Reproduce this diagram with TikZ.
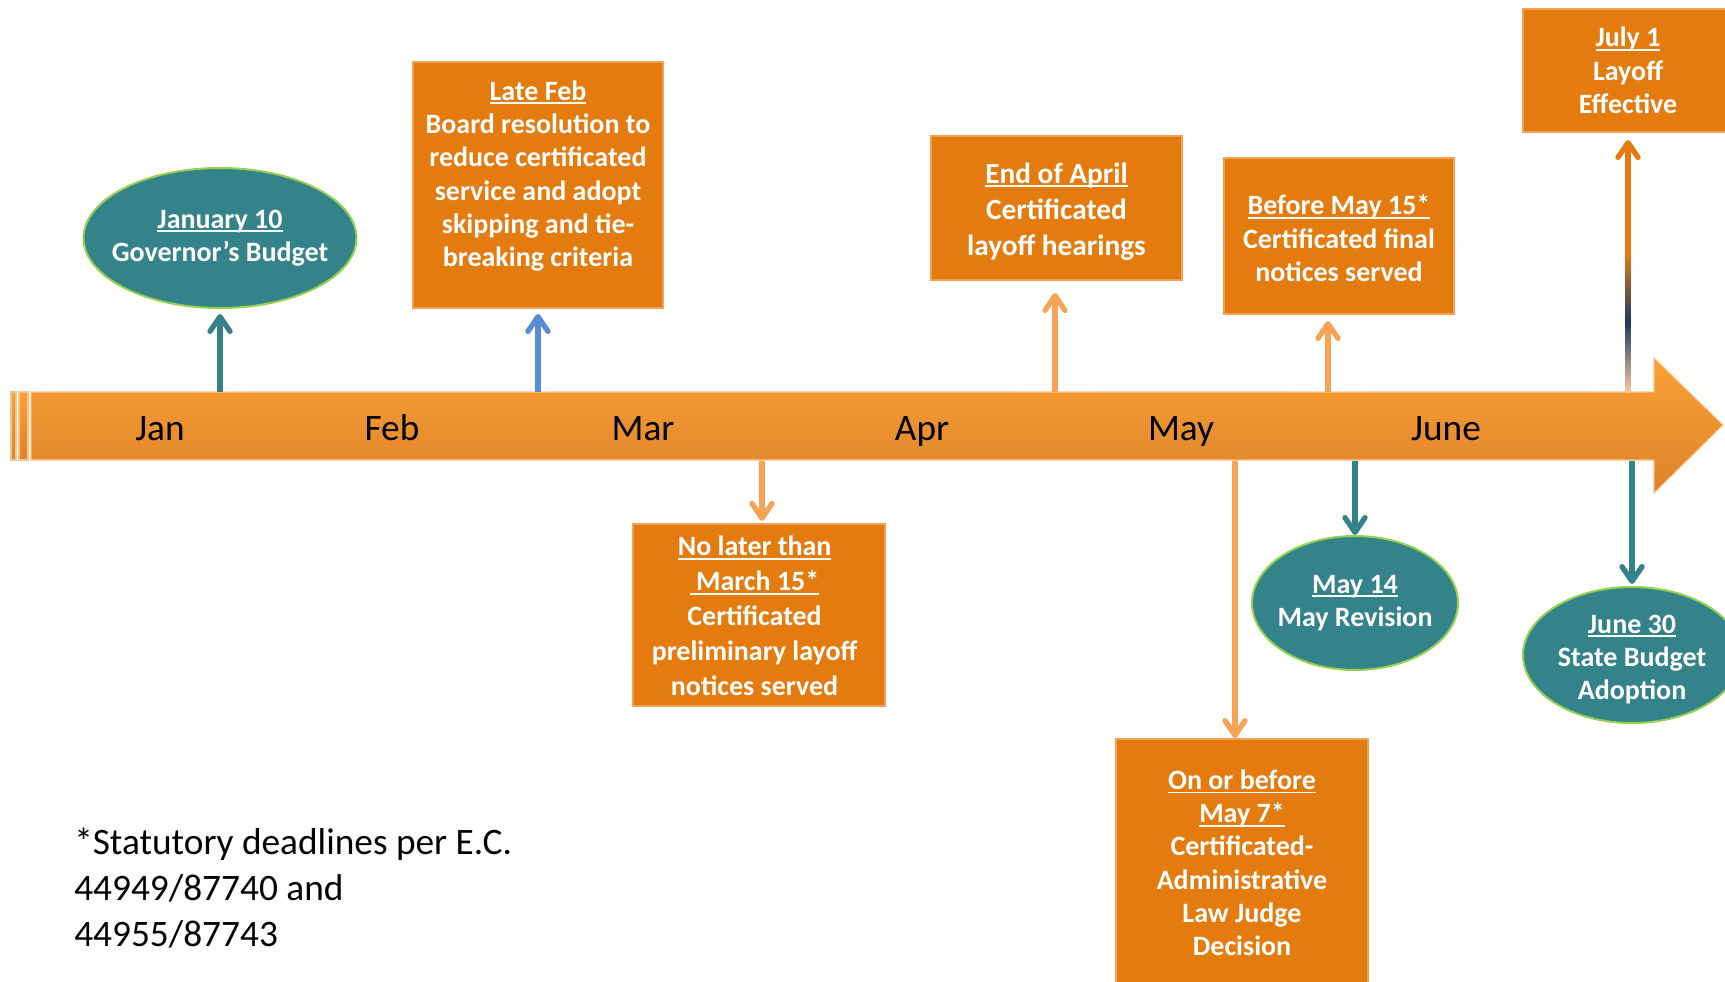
\documentclass[tikz,border=0pt]{standalone}
\usepackage{fontspec}
\setmainfont{Carlito}
\usetikzlibrary{arrows.meta,shapes.geometric}
\definecolor{boxorange}{RGB}{228,123,15}
\definecolor{boxedge}{RGB}{246,160,85}
\definecolor{tealc}{RGB}{52,130,138}
\definecolor{ovaledge}{RGB}{150,208,80}
\definecolor{bluec}{RGB}{85,142,213}
\definecolor{lightor}{RGB}{246,163,86}
\definecolor{bartop}{RGB}{250,160,55}
\definecolor{barbot}{RGB}{222,130,42}
\definecolor{baredge}{RGB}{250,195,140}
\definecolor{navyc}{RGB}{31,56,100}
\definecolor{peachc}{RGB}{250,200,160}
\newcommand\ulx[1]{\setbox0\hbox{#1}\rlap{\rule[-3pt]{\wd0}{1.3pt}}\box0}
\newcommand\zw[1]{\hbox to 0pt{\hss\vbox to 0pt{\vss\hbox{\begin{tabular}{@{}c@{}}#1\end{tabular}}\vss}\hss}}
\begin{document}
\begin{tikzpicture}[x=0.75pt,y=-0.75pt,
  box/.style={rectangle, draw=boxedge, line width=1.5pt, fill=boxorange, text=white,
    inner sep=0pt, align=center, font=\bfseries\fontsize{21}{25}\selectfont},
  oval/.style={ellipse, draw=ovaledge, line width=1.5pt, fill=tealc, text=white,
    inner sep=0pt, font=\bfseries\fontsize{21}{25}\selectfont},
  arr/.style={line width=4pt, -{Straight Barb[length=11pt,width=15pt,round]}},
  month/.style={anchor=base, inner sep=0pt, text=black, font=\fontsize{28}{33}\selectfont},
  foot/.style={anchor=north west, inner sep=0pt, align=left, text=black, font=\fontsize{28}{34.5}\selectfont}
]
\useasboundingbox (0,0) rectangle (1725,982);
\clip (0,0) rectangle (1725,982);

% timeline bar
\shade[top color=bartop, bottom color=barbot] (11,392) rectangle (16,460);
\shade[top color=bartop, bottom color=barbot] (19,392) rectangle (28,460);
\shade[top color=bartop, bottom color=barbot]
  (31,392) -- (1654,392) -- (1654,358) -- (1723,425) -- (1654,493) -- (1654,460) -- (31,460) -- cycle;
\draw[baredge, line width=0.8pt]
  (31,392) -- (1654,392) -- (1654,358) -- (1723,425) -- (1654,493) -- (1654,460) -- (31,460) -- cycle;
\draw[baredge, line width=0.8pt] (11,392) rectangle (16,460) (19,392) rectangle (28,460);

% month labels
\node[month] (mjan) at (160,440) {Jan};
\node[month] (mfeb) at (392,440) {Feb};
\node[month] (mmar) at (643,440) {Mar};
\node[month] (mapr) at (922,440) {Apr};
\node[month] (mmay) at (1181,440) {May};
\node[month] (mjun) at (1446,440) {June};

% event nodes
\node[oval, minimum width=273*0.75pt, minimum height=140*0.75pt] (jan) at (220,238)
  {\zw{\ulx{January 10}\\Governor’s Budget}};
\node[box, minimum width=250*0.75pt, minimum height=246*0.75pt] (feb) at (538,185)
  {\ulx{Late Feb}\\Board resolution to\\reduce certificated\\service and adopt\\skipping and tie-\\breaking criteria\\[-8pt]\mbox{}};
\node[box, minimum width=251*0.75pt, minimum height=144*0.75pt, font=\bfseries\fontsize{22}{27}\selectfont] (apr) at (1056.5,208)
  {\rule{0pt}{20.5pt}\ulx{End of April}\\Certificated\\layoff hearings};
\node[box, minimum width=230*0.75pt, minimum height=156*0.75pt] (may15) at (1339,236)
  {\rule{0pt}{18.5pt}\ulx{Before May 15*}\\Certificated final\\notices served};
\node[box, minimum width=210*0.75pt, minimum height=123*0.75pt] (jul1) at (1628,70.5)
  {\ulx{July 1}\\Layoff\\Effective};
\node[box, minimum width=252*0.75pt, minimum height=180*0.75pt, font=\bfseries\fontsize{21}{26.2}\selectfont] (mar15) at (759,615)
  {\begin{tabular}{@{}c@{}}\rule{0pt}{24.1pt}\ulx{No later than}\\\ulx{ March 15*}\\Certificated\\preliminary layoff\\notices served\end{tabular}\hspace*{6.6pt}};
\node[box, minimum width=252*0.75pt, minimum height=252*0.75pt] (may7) at (1242,865)
  {\ulx{On or before}\\\ulx{May 7*}\\Certificated-\\Administrative\\Law Judge\\Decision\\[-21.7pt]\mbox{}};
\node[oval, minimum width=206*0.75pt, minimum height=134*0.75pt] (may14) at (1355,603)
  {\zw{\ulx{May 14}\\May Revision}};
\node[oval, minimum width=218*0.75pt, minimum height=136*0.75pt] (jun30) at (1632,655)
  {\zw{\rule{0pt}{24.5pt}\ulx{June 30}\\State Budget\\Adoption}};

% anchor points on the bar
\coordinate (cjan) at (220,392);
\coordinate (cfeb) at (538,392);
\coordinate (capr) at (1055,392);
\coordinate (cm15) at (1328,392);
\coordinate (cjul) at (1628,392);
\coordinate (cmar) at (762,461);
\coordinate (cmay7) at (1235,461);
\coordinate (cmay14) at (1355,461);
\coordinate (cjun) at (1632,461);

% connectors
\draw[arr, color=tealc, shorten >=3.75pt] (cjan) -- (cjan |- jan.south);
\draw[arr, color=bluec, shorten >=3.75pt] (cfeb) -- (cfeb |- feb.south);
\draw[arr, color=lightor, shorten >=9pt] (capr) -- (capr |- apr.south);
\draw[arr, color=lightor, shorten >=4.5pt] (cm15) -- (cm15 |- may15.south);
\draw[arr, color=boxorange, shorten >=5.25pt] (cjul) -- (cjul |- jul1.south);
\shade[top color=boxorange, bottom color=peachc, middle color=navyc] (1625.3,253) rectangle (1630.7,392);
\draw[arr, color=lightor, shorten >=1.5pt] (cmar) -- (cmar |- mar15.north);
\draw[arr, color=lightor] (cmay7) -- (cmay7 |- may7.north);
\draw[arr, color=tealc] (cmay14) -- (may14.north);
\draw[arr, color=tealc, shorten >=1.5pt] (cjun) -- (jun30.north);

% footnote
\node[foot] (note) at (74,828) {*Statutory deadlines per E.C.\\44949/87740 and\\44955/87743};
\end{tikzpicture}
\end{document}
